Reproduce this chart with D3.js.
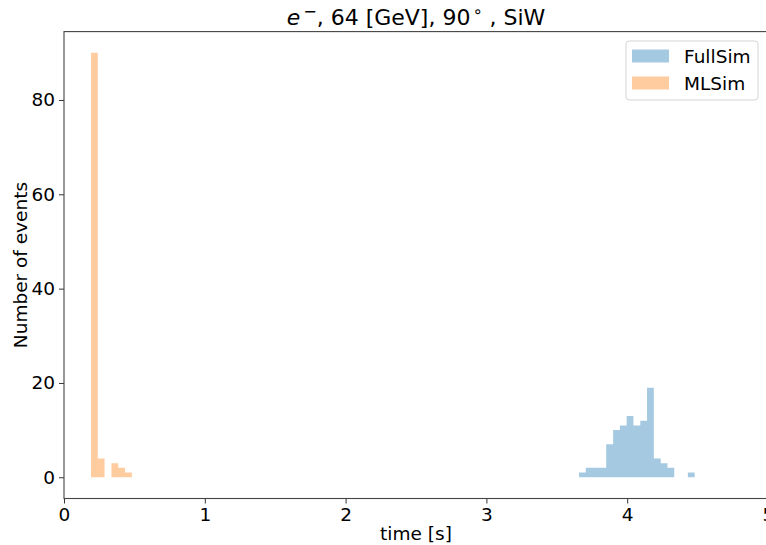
<!DOCTYPE html>
<html>
<head>
<meta charset="utf-8">
<script src="https://cdn.jsdelivr.net/npm/d3@7"></script>
<style>
  body { margin: 0; background: #fff; }
  text { font-family: "DejaVu Sans", sans-serif; fill: #000; }
</style>
</head>
<body>
<div id="chart"></div>
<script>
// histogram bin edges (time [s]) and counts
const fullEdges = [3.658, 3.706, 3.755, 3.803, 3.851, 3.900, 3.948, 3.996, 4.044,
                   4.093, 4.141, 4.189, 4.238, 4.286, 4.334, 4.383, 4.431, 4.479];
const fullCounts = [1, 2, 2, 2, 7, 10, 11, 13, 11, 12, 19, 4, 3, 2, 0, 0, 1];
const mlEdges = [0.192, 0.240, 0.288, 0.337, 0.385, 0.433, 0.482];
const mlCounts = [90, 4, 0, 3, 2, 1];
const xTicks = [0, 1, 2, 3, 4, 5];
const yTicks = [0, 20, 40, 60, 80];
const seriesNames = ["FullSim", "MLSim"];
const colors = ["#1f77b4", "#ff7f0e"];

const width = 766;
const height = 545;
const margin = {left: 64, top: 31.6, right: -2, bottom: 46.5};

const x = d3.scaleLinear()
    .domain([0, 5])
    .range([margin.left, width - margin.right]);
const y = d3.scaleLinear()
    .domain([-4.5, 94.5])
    .range([height - margin.bottom, margin.top]);

const svg = d3.select("#chart")
    .append("svg")
    .attr("width", width)
    .attr("height", height);

// step-filled histograms
const area = d3.area()
    .curve(d3.curveStepAfter)
    .x(d => x(d[0]))
    .y0(y(0))
    .y1(d => y(d[1]));

function steps(edges, counts) {
    const pts = counts.map((c, i) => [edges[i], c]);
    pts.push([edges[edges.length - 1], counts[counts.length - 1]]);
    return pts;
}

[[fullEdges, fullCounts], [mlEdges, mlCounts]].forEach(([e, c], i) => {
    svg.append("path")
        .attr("d", area(steps(e, c)))
        .attr("fill", colors[i])
        .attr("fill-opacity", 0.4);
});

// axes
const xAxis = svg.append("g")
    .attr("transform", `translate(0,${y.range()[0]})`)
    .call(d3.axisBottom(x).tickValues(xTicks).tickFormat(d3.format("d")).tickSize(5).tickPadding(4));
const yAxis = svg.append("g")
    .attr("transform", `translate(${margin.left},0)`)
    .call(d3.axisLeft(y).tickValues(yTicks).tickFormat(d3.format("d")).tickSize(5).tickPadding(4));

[xAxis, yAxis].forEach(g => {
    g.select(".domain").remove();
    g.selectAll("line").attr("stroke", "#333").attr("stroke-width", 1);
    g.selectAll("text").style("font-size", "18.5px").style("font-family", "DejaVu Sans");
});

// spines
svg.append("rect")
    .attr("x", x.range()[0])
    .attr("y", y.range()[1])
    .attr("width", x.range()[1] - x.range()[0])
    .attr("height", y.range()[0] - y.range()[1])
    .attr("fill", "none")
    .attr("stroke", "#444")
    .attr("stroke-width", 1.1);

// labels
svg.append("text")
    .attr("x", (x.range()[0] + x.range()[1]) / 2)
    .attr("y", 540)
    .attr("text-anchor", "middle")
    .style("font-size", "18.5px")
    .text("time [s]");

svg.append("text")
    .attr("transform", `translate(27,${(y.range()[0] + y.range()[1]) / 2}) rotate(-90)`)
    .attr("text-anchor", "middle")
    .style("font-size", "18.5px")
    .text("Number of events");

const title = svg.append("text")
    .attr("x", (x.range()[0] + x.range()[1]) / 2)
    .attr("y", 25)
    .attr("text-anchor", "middle")
    .style("font-size", "22px");
title.append("tspan").style("font-style", "italic").text("e");
title.append("tspan").attr("dx", 3).attr("dy", -8).style("font-size", "16px").text("\u2212");
title.append("tspan").attr("dy", 8).text(", 64 [GeV], 90");
title.append("tspan").attr("dx", 2).attr("dy", -8).style("font-size", "16px").text("\u2218");
title.append("tspan").attr("dy", 8).text(" , SiW");

// legend
const legend = svg.append("g").attr("transform", "translate(626,41)");
legend.append("rect")
    .attr("width", 132)
    .attr("height", 59)
    .attr("rx", 3)
    .attr("fill", "#fff")
    .attr("fill-opacity", 0.8)
    .attr("stroke", "#d5d5d5");
seriesNames.forEach((name, i) => {
    legend.append("rect")
        .attr("x", 6)
        .attr("y", 8.5 + i * 27)
        .attr("width", 37)
        .attr("height", 13)
        .attr("fill", colors[i])
        .attr("fill-opacity", 0.4);
    legend.append("text")
        .attr("x", 58)
        .attr("y", 21.5 + i * 27)
        .style("font-size", "18.5px")
        .text(name);
});
</script>
</body>
</html>
